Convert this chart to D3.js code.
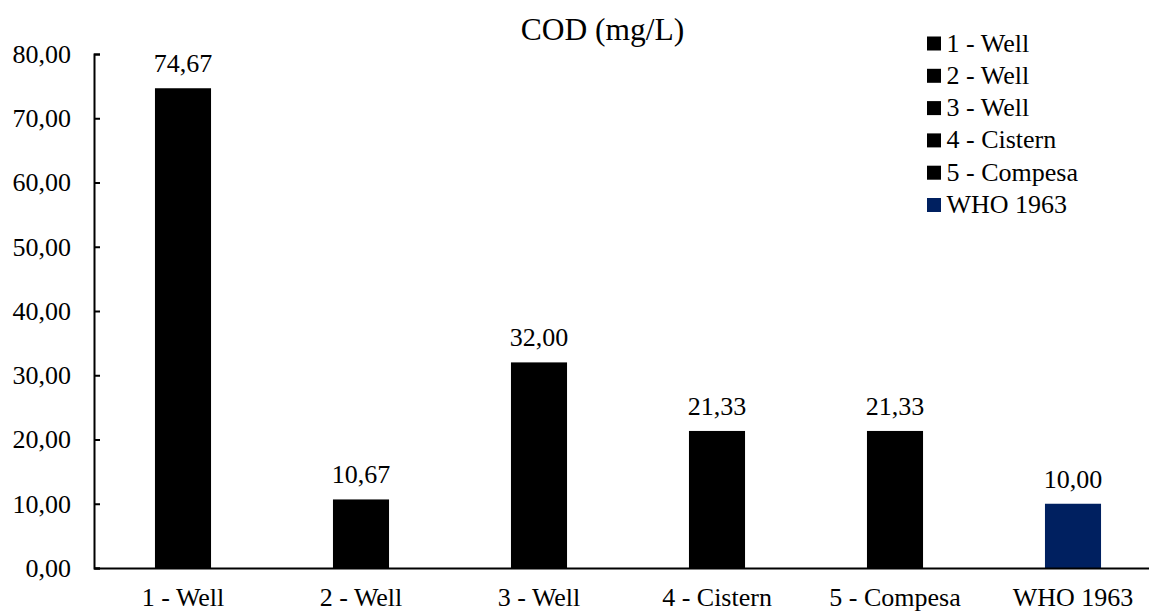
<!DOCTYPE html>
<html>
<head>
<meta charset="utf-8">
<script src="https://cdn.jsdelivr.net/npm/d3@7"></script>
<style>
  body { margin: 0; background: #fff; }
</style>
</head>
<body>
<div id="chart-area"></div>
<script>
// data
const categories = ["1 - Well", "2 - Well", "3 - Well", "4 - Cistern", "5 - Compesa", "WHO 1963"];
const values = [74.67, 10.67, 32.00, 21.33, 21.33, 10.00];
const colors = ["#000000", "#000000", "#000000", "#000000", "#000000", "#002060"];
const yTicks = [0, 10, 20, 30, 40, 50, 60, 70, 80];

const W = 1149, H = 612;
const MARGIN = { LEFT: 94, TOP: 54, BOTTOM: 44 };
const PLOT_RIGHT = 1162; // axis runs off the right edge
const BASE = H - MARGIN.BOTTOM;
const FONT = "Liberation Serif";

const fmt = v => v.toFixed(2).replace(".", ",");

const svg = d3.select("#chart-area").append("svg")
  .attr("width", W)
  .attr("height", H)
  .attr("font-family", FONT);

const x = d3.scaleBand()
  .domain(categories)
  .range([MARGIN.LEFT, PLOT_RIGHT])
  .paddingInner(0.685)
  .paddingOuter(0.3425);

const y = d3.scaleLinear()
  .domain([0, 80])
  .range([BASE, MARGIN.TOP]);

// y axis
const yAxis = d3.axisLeft(y)
  .tickValues(yTicks)
  .tickFormat(fmt)
  .tickSizeInner(-6)
  .tickSizeOuter(-6)
  .tickPadding(23);

const gy = svg.append("g")
  .attr("transform", `translate(${MARGIN.LEFT},0)`)
  .call(yAxis)
  .attr("font-family", FONT)
  .attr("font-size", 26);
gy.select(".domain").attr("stroke", "#000").attr("stroke-width", 2);
gy.selectAll(".tick line").attr("stroke", "#000").attr("stroke-width", 2);
gy.selectAll(".tick text").attr("fill", "#000");

// bars
svg.selectAll("rect.bar").data(values)
  .enter()
  .append("rect")
  .attr("class", "bar")
  .attr("x", (d, i) => x(categories[i]))
  .attr("y", d => y(d))
  .attr("width", x.bandwidth())
  .attr("height", d => BASE - y(d))
  .attr("fill", (d, i) => colors[i]);

// value labels
svg.selectAll("text.val").data(values)
  .enter()
  .append("text")
  .attr("class", "val")
  .attr("x", (d, i) => x(categories[i]) + x.bandwidth() / 2)
  .attr("y", d => y(d) - 16)
  .attr("text-anchor", "middle")
  .attr("font-family", FONT)
  .attr("font-size", 26)
  .text(fmt);

// x axis
const xAxis = d3.axisBottom(x).tickSize(0).tickPadding(20);
const gx = svg.append("g")
  .attr("transform", `translate(0,${BASE})`)
  .call(xAxis)
  .attr("font-family", FONT)
  .attr("font-size", 26);
gx.select(".domain").attr("stroke", "#000").attr("stroke-width", 2);
gx.selectAll(".tick text").attr("fill", "#000").attr("dy", "0.68em");

// title
svg.append("text")
  .attr("x", 602.5)
  .attr("y", 40)
  .attr("text-anchor", "middle")
  .attr("font-family", FONT)
  .attr("font-size", 31.5)
  .text("COD (mg/L)");

// legend
const legend = svg.append("g").attr("transform", "translate(927,51.5)");
const rows = legend.selectAll("g").data(categories)
  .enter()
  .append("g")
  .attr("transform", (d, i) => `translate(0,${i * 32.3})`);
rows.append("rect")
  .attr("x", 0)
  .attr("y", -15)
  .attr("width", 14)
  .attr("height", 14)
  .attr("fill", (d, i) => colors[i]);
rows.append("text")
  .attr("x", 19.5)
  .attr("y", 0)
  .attr("font-family", FONT)
  .attr("font-size", 26)
  .text(d => d);
</script>
</body>
</html>
